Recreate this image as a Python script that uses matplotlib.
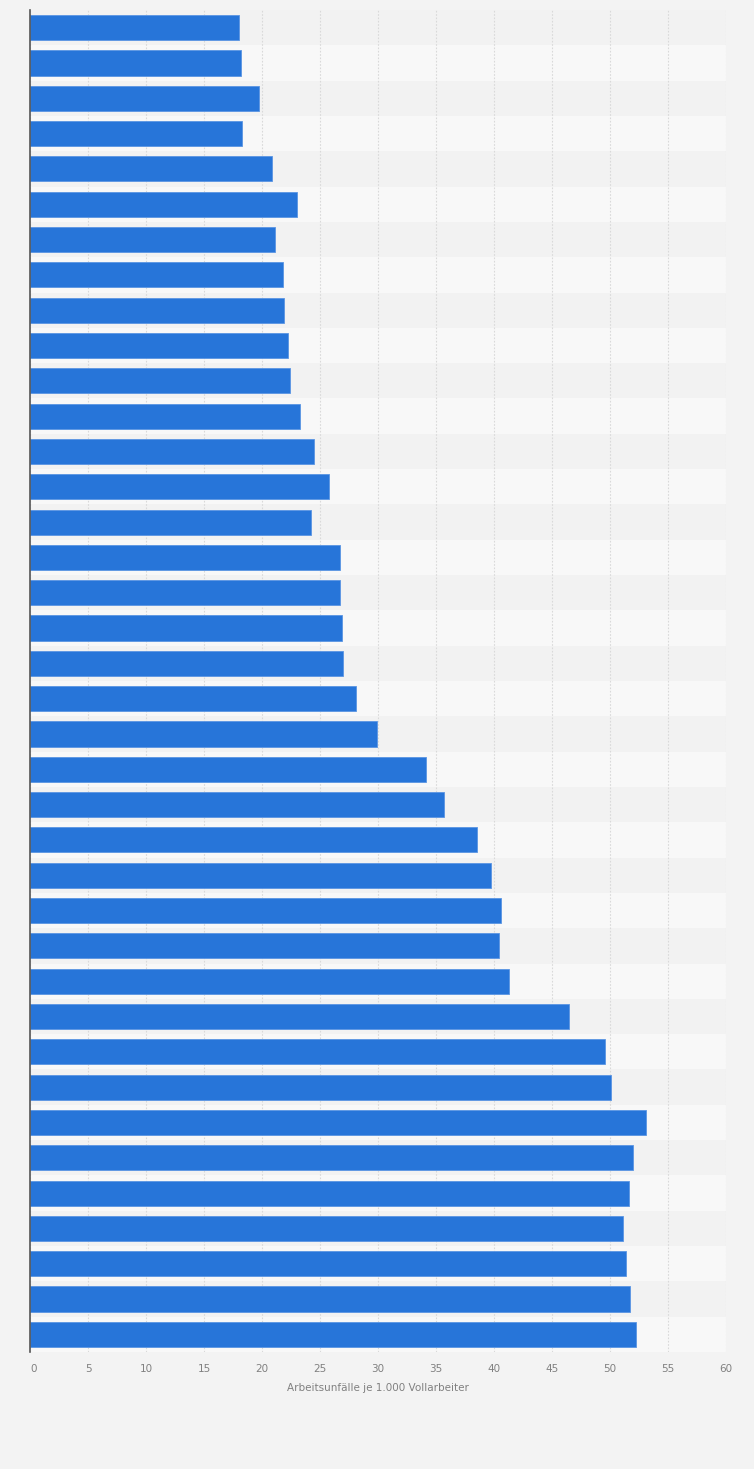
import matplotlib.pyplot as plt

# values, top bar first
values = [18.0, 18.2, 19.7, 18.3, 20.9, 23.0, 21.1, 21.8, 21.9, 22.2,
          22.4, 23.3, 24.5, 25.8, 24.2, 26.7, 26.7, 26.9, 27.0, 28.1,
          29.9, 34.1, 35.7, 38.5, 39.7, 40.6, 40.4, 41.3, 46.5, 49.6,
          50.1, 53.1, 52.0, 51.6, 51.1, 51.4, 51.7, 52.2]
xticks = list(range(0, 61, 5))
xlabel = "Arbeitsunfälle je 1.000 Vollarbeiter"


def main():
    fig = plt.figure(figsize=(7.54, 14.69), dpi=100, facecolor="#f3f3f3")
    ax = fig.add_axes([30 / 754, 1 - 1352 / 1469, 696 / 754, 1342 / 1469])
    ax.set_facecolor("#f3f3f3")

    n = len(values)
    pos = list(range(n))

    # alternating row bands
    for i in pos:
        color = "#f2f2f2" if i % 2 == 0 else "#f8f8f8"
        ax.axhspan(i - 0.5, i + 0.5, color=color, zorder=0, lw=0)

    ax.barh(pos, values, height=0.71, color="#2775d9",
            edgecolor="#5a95e3", linewidth=0.6, zorder=3)

    ax.set_ylim(n - 0.5, -0.5)
    ax.set_xlim(0, 60)
    ax.set_xticks(xticks)
    ax.set_yticks([])
    ax.tick_params(axis="x", length=0, pad=9, labelsize=7.5, labelcolor="#808080")
    for lab in ax.get_xticklabels():
        lab.set_ha("left" if lab.get_text() == "0" else "center")
    ax.grid(axis="x", color="#d9d9d9", linestyle=(0, (1.5, 1.5)), linewidth=0.8, zorder=1)

    ax.set_xlabel(xlabel, fontsize=7.5, color="#808080", labelpad=6)

    for s in ["top", "right", "bottom"]:
        ax.spines[s].set_visible(False)
    ax.spines["left"].set_color("#555555")
    ax.spines["left"].set_linewidth(1.2)
    ax.spines["left"].set_zorder(4)

    fig.savefig("out.png", dpi=100, facecolor=fig.get_facecolor())


if __name__ == "__main__":
    main()
